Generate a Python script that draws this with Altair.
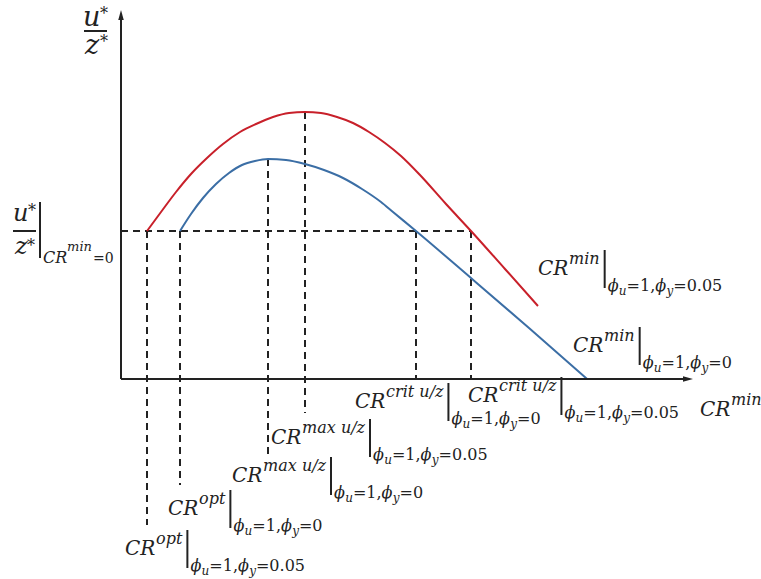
import altair as alt
import pandas as pd

# u*/z* against CR^min for the two parameter settings (x measured from the origin)
cr_red = [26, 40, 55, 70, 86, 102, 119, 135, 152, 168, 184, 200, 216, 232, 248,
          264, 280, 299, 325, 350, 384, 417]
uz_red = [148, 167, 187, 205, 221, 235, 247, 255, 262, 266, 267, 266, 262, 256, 247,
          236, 223, 204, 175, 148, 110, 73]
cr_blue = [59, 70, 82, 95, 108, 121, 134, 147, 165, 184, 203, 222, 241, 260, 272,
           295, 350, 408, 466]
uz_blue = [148, 165, 181, 195, 206, 214, 218, 220, 219, 215, 209, 201, 190, 177, 167,
           148, 101, 51, 0]

phi_y_red = "0.05"
phi_y_blue = "0"

# level of u*/z* at CR^min = 0 and the characteristic CR values
uz_level = 148
cr_opt = {phi_y_red: 26, phi_y_blue: 59}
cr_max = {phi_y_red: 184, phi_y_blue: 147}
cr_crit = {phi_y_red: 350, phi_y_blue: 295}

RED = "#C8202A"
BLUE = "#3B6EA5"
INK = "#222222"
FONT = "DejaVu Serif"

X_END, Y_END = 572, 369  # arrow tips of the two axes
xs = alt.Scale(domain=[-121, 640], nice=False, zero=False)
ys = alt.Scale(domain=[-200, 379], nice=False, zero=False)

# approximate advance widths (em) for the serif face
EM = {"C": 0.734, "R": 0.770, "a": 0.596, "c": 0.560, "e": 0.592, "i": 0.320,
      "m": 0.948, "n": 0.644, "o": 0.602, "p": 0.640, "r": 0.478, "t": 0.402,
      "u": 0.644, "x": 0.564, "y": 0.565, "z": 0.525, "/": 0.337, " ": 0.318,
      "=": 0.838, ",": 0.318, ".": 0.318, "*": 0.500, "ϕ": 0.700}
for d in "0123456789":
    EM[d] = 0.636


def tw(s, size):
    return sum(EM.get(c, 0.6) for c in s) * size


pieces = []
bars = []


def add(x, y, t, s, st="italic"):
    pieces.append(dict(x=x, y=y, t=t, s=s, st=st))


def cr_label(x, y, sup, phi_y=None):
    add(x, y, "CR", 20)
    cx = x + tw("CR", 20) + 1
    add(cx, y + 11, sup, 16)
    cx += tw(sup, 16)
    if phi_y is None:
        return
    bx = cx + 5
    bars.append(dict(x=bx, x2=bx, y=y - 13, y2=y + 25))
    sx = bx + 3
    sb = y - 16
    for txt, size, style, dy in [("ϕ", 16, "italic", 0), ("u", 12, "italic", -4),
                                 ("=1,", 16, "normal", 0), ("ϕ", 16, "italic", 0),
                                 ("y", 12, "italic", -4), ("=" + phi_y, 16, "normal", 0)]:
        add(sx, sb + dy, txt, size, style)
        sx += tw(txt, size)


cr_label(4, -176, "opt", phi_y_red)
cr_label(47, -136, "opt", phi_y_blue)
cr_label(111, -103, "max u/z", phi_y_blue)
cr_label(150, -65, "max u/z", phi_y_red)
cr_label(234, -29, "crit u/z", phi_y_blue)
cr_label(347, -23, "crit u/z", phi_y_red)
cr_label(417, 104, "min", phi_y_red)
cr_label(452, 27, "min", phi_y_blue)
cr_label(579, -37, "min")

# ordinate title u*/z*
add(-38, 353, "u", 27)
add(-21, 360, "*", 16, "normal")
add(-36, 325, "z", 27)
add(-21, 332, "*", 16, "normal")
bars.append(dict(x=-37, x2=-14, y=348, y2=348))

# level label u*/z* | CR^min=0
add(-108, 158, "u", 24)
add(-93, 163, "*", 16, "normal")
add(-106, 125, "z", 24)
add(-94, 128, "*", 16, "normal")
bars.append(dict(x=-108, x2=-85, y=148, y2=148))
bars.append(dict(x=-81, x2=-81, y=121, y2=177))
add(-78, 116, "CR", 16)
add(-78 + tw("CR", 16), 128, "min", 13)
add(-78 + tw("CR", 16) + tw("min", 13) + 1, 116, "=0", 14, "normal")

pieces_df = pd.DataFrame(pieces)
bars_df = pd.DataFrame(bars)

curves = pd.concat([
    pd.DataFrame({"cr": cr_red, "uz": uz_red, "series": "red"}),
    pd.DataFrame({"cr": cr_blue, "uz": uz_blue, "series": "blue"}),
])

# dashed guides: horizontal level and vertical drops to the labels
drop_ends = {("opt", phi_y_red): -146, ("opt", phi_y_blue): -106,
             ("max", phi_y_blue): -76, ("max", phi_y_red): -34}
guides = [
    dict(x=0, x2=cr_crit[phi_y_red], y=uz_level, y2=uz_level),
    dict(x=cr_opt[phi_y_red], x2=cr_opt[phi_y_red], y=uz_level, y2=drop_ends[("opt", phi_y_red)]),
    dict(x=cr_opt[phi_y_blue], x2=cr_opt[phi_y_blue], y=uz_level, y2=drop_ends[("opt", phi_y_blue)]),
    dict(x=cr_max[phi_y_blue], x2=cr_max[phi_y_blue], y=max(uz_blue), y2=drop_ends[("max", phi_y_blue)]),
    dict(x=cr_max[phi_y_red], x2=cr_max[phi_y_red], y=max(uz_red), y2=drop_ends[("max", phi_y_red)]),
    dict(x=cr_crit[phi_y_blue], x2=cr_crit[phi_y_blue], y=uz_level, y2=0),
    dict(x=cr_crit[phi_y_red], x2=cr_crit[phi_y_red], y=uz_level, y2=0),
]
guides_df = pd.DataFrame(guides)

axes_df = pd.DataFrame([
    dict(x=0, x2=X_END - 8, y=0, y2=0),
    dict(x=0, x2=0, y=0, y2=Y_END - 8),
])
heads_df = pd.DataFrame([
    dict(x=0, y=Y_END - 5, shape="M0,-1L0.55,1L-0.55,1Z"),
    dict(x=X_END - 5, y=0, shape="M1,0L-1,0.55L-1,-0.55Z"),
])

X = lambda f="x": alt.X(f"{f}:Q", scale=xs, axis=None)
Y = lambda f="y": alt.Y(f"{f}:Q", scale=ys, axis=None)

guide_layer = alt.Chart(guides_df).mark_rule(
    color=INK, strokeWidth=2, strokeDash=[7, 5]
).encode(x=X(), x2="x2:Q", y=Y(), y2="y2:Q")

axis_layer = alt.Chart(axes_df).mark_rule(color=INK, strokeWidth=2).encode(
    x=X(), x2="x2:Q", y=Y(), y2="y2:Q")

head_layer = alt.Chart(heads_df).mark_point(
    filled=True, opacity=1, size=100, color=INK, strokeWidth=0
).encode(x=X(), y=Y(), shape=alt.Shape("shape:N", scale=None, legend=None))

curve_layer = alt.Chart(curves).mark_line(strokeWidth=2, interpolate="monotone").encode(
    x=alt.X("cr:Q", scale=xs, axis=None),
    y=alt.Y("uz:Q", scale=ys, axis=None),
    detail="series:N",
    color=alt.Color("series:N", scale=alt.Scale(domain=["red", "blue"], range=[RED, BLUE]), legend=None),
)

bar_layer = alt.Chart(bars_df).mark_rule(color=INK, strokeWidth=2).encode(
    x=X(), x2="x2:Q", y=Y(), y2="y2:Q")


def text_layer(style):
    df = pieces_df[pieces_df.st == style]
    return alt.Chart(df).mark_text(
        align="left", baseline="alphabetic", font=FONT, fontStyle=style, color=INK
    ).encode(x=X(), y=Y(), text="t:N", size=alt.Size("s:Q", scale=None, legend=None))


chart = alt.layer(
    guide_layer, curve_layer, axis_layer, head_layer, bar_layer,
    text_layer("italic"), text_layer("normal"),
).properties(
    width=761, height=579, padding=0, autosize=alt.AutoSizeParams(type="none"),
    background="white",
).configure_view(stroke=None)

chart.save("out.html", embed_options={"renderer": "svg", "actions": False})
